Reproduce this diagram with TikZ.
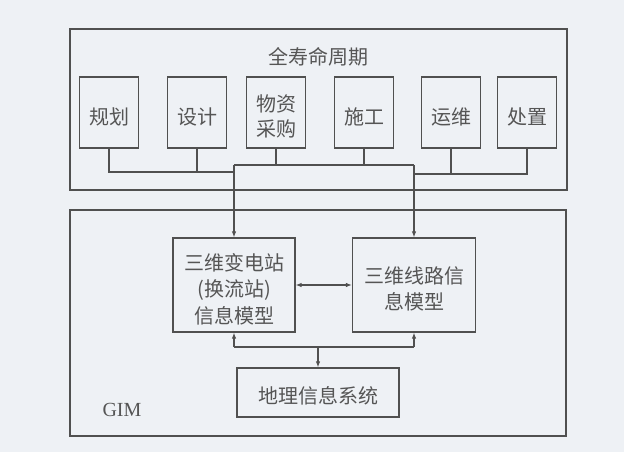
\documentclass[tikz,border=0pt]{standalone}
\usepackage{fontspec}
\setmainfont{Noto Sans CJK SC}
\newfontfamily\latinserif{Liberation Serif}
\usetikzlibrary{arrows.meta}
\definecolor{bgc}{RGB}{238,241,245}
\definecolor{linec}{RGB}{80,80,80}
\definecolor{textc}{RGB}{85,85,85}
\tikzset{
  lnk/.style={draw=linec, line width=1.2pt},
  arr/.style={lnk, -{Latex[length=6pt,width=4.5pt]}},
  biarr/.style={lnk, {Latex[length=6pt,width=4.5pt]}-{Latex[length=6pt,width=4.5pt]}},
  frame/.style={draw=linec, line width=1.2pt},
  boxtext/.style={inner sep=0pt, align=center, text=textc, yshift=-4pt, font=\fontsize{20}{26}\selectfont},
  phase/.style={draw=linec, line width=1.2pt, minimum width=59pt, minimum height=71pt, inner sep=0pt},
  model/.style={draw=linec, line width=1.2pt, inner sep=0pt},
}
\begin{document}
\begin{tikzpicture}[x=1pt,y=-1pt]
\fill[bgc] (0,0) rectangle (624,452);
\useasboundingbox (0,0) rectangle (624,452);
% frames
\node[frame, minimum width=497pt, minimum height=161pt, inner sep=0pt] (top) at (318.5,109.5) {};
\node[frame, minimum width=496pt, minimum height=226pt, inner sep=0pt] (low) at (318,323) {};
\node[text=textc, font=\fontsize{20}{24}\selectfont] (title) at (318,57) {全寿命周期};
% phases
\node[phase, label={[boxtext]center:规划}] (p1) at (109,112.5) {};
\node[phase, label={[boxtext]center:设计}] (p2) at (197,112.5) {};
\node[phase, label={[boxtext, font=\fontsize{20}{25}\selectfont]center:物资\\采购}] (p3) at (276,112.5) {};
\node[phase, label={[boxtext]center:施工}] (p4) at (364,112.5) {};
\node[phase, label={[boxtext]center:运维}] (p5) at (451,112.5) {};
\node[phase, label={[boxtext]center:处置}] (p6) at (527,112.5) {};
% models
\node[model, minimum width=122pt, minimum height=94pt, label={[boxtext, font=\fontsize{20}{26.5}\selectfont]center:三维变电站\\(换流站)\\信息模型}] (m1) at (234,285) {};
\node[model, minimum width=123pt, minimum height=94pt, label={[boxtext]center:三维线路信\\息模型}] (m2) at (414,285) {};
\node[model, minimum width=162pt, minimum height=49pt, label={[boxtext, yshift=1pt]center:地理信息系统}] (gis) at (318,392.5) {};
\node[text=textc, font=\latinserif\fontsize{20}{24}\selectfont] (gim) at (122,410) {GIM};
% junctions
\coordinate (jl) at (234,172);
\coordinate (jr) at (414,174);
\coordinate (ml) at (234,165);
\coordinate (mr) at (414,165);
\coordinate (bl) at (234,347);
\coordinate (br) at (414,347);
% upper connectors
\draw[lnk] (p1.south) |- (jl);
\draw[lnk] (p2.south) -- (p2.south |- jl);
\draw[lnk] (p3.south) -- (p3.south |- ml);
\draw[lnk] (p4.south) -- (p4.south |- ml);
\draw[lnk] (ml) -- (mr);
\draw[lnk] (p6.south) |- (jr);
\draw[lnk] (p5.south) -- (p5.south |- jr);
\draw[arr] (ml) -- (m1.north);
\draw[arr] (mr) -- (m2.north);
% middle
\draw[biarr] (m1.east) -- (m2.west);
% lower connectors
\draw[lnk] (bl) -- (br);
\draw[arr] (bl) -- (m1.south);
\draw[arr] (br) -- (m2.south);
\draw[arr] (gis.north |- bl) -- (gis.north);
\end{tikzpicture}
\end{document}
